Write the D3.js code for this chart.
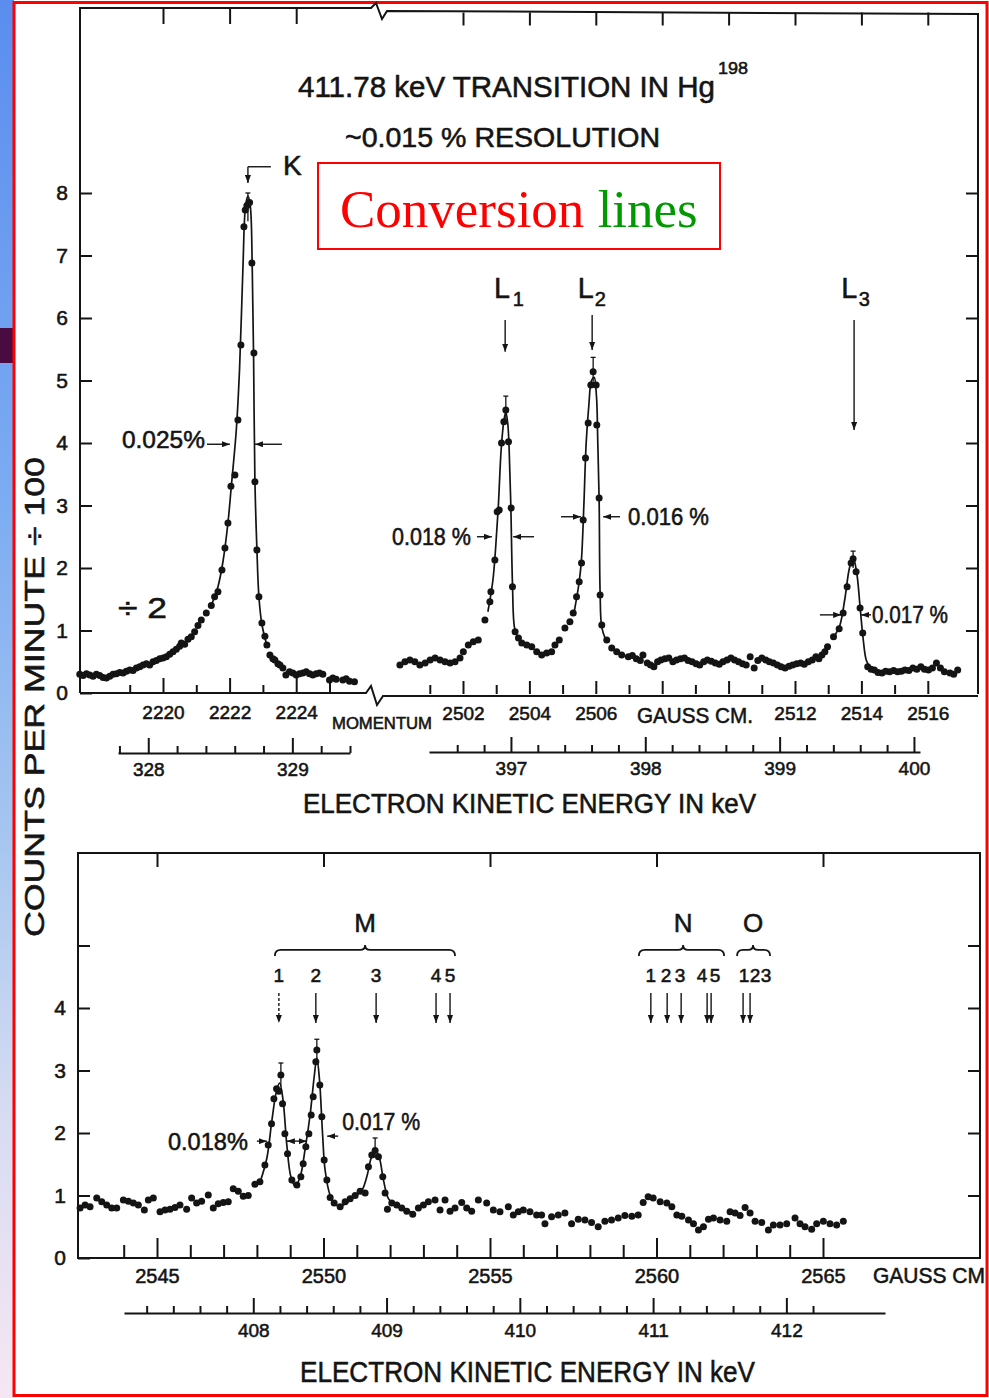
<!DOCTYPE html>
<html>
<head>
<meta charset="utf-8">
<script src="https://cdn.jsdelivr.net/npm/d3@7/dist/d3.min.js"></script>
<style>
  body { margin: 0; background: #fff; }
  svg text { font-family: 'Liberation Sans', Arial, sans-serif; fill: #141414; stroke: #141414; stroke-width: 0.55px; }
  svg text.serif { stroke: none; }
</style>
</head>
<body>
<svg id="chart" width="989" height="1398"></svg>
<script>
// [momentum (gauss cm), counts per minute / 100]
const kPoints = [[2217.5,0.30],[2217.6,0.28],[2217.7,0.31],[2217.8,0.29],[2217.9,0.27],[2218.0,0.30],[2218.1,0.28],[2218.2,0.25],[2218.3,0.24],[2218.4,0.27],[2218.5,0.30],[2218.6,0.31],[2218.7,0.33],[2218.8,0.32],[2218.9,0.35],[2219.0,0.37],[2219.1,0.36],[2219.2,0.40],[2219.3,0.42],[2219.4,0.45],[2219.5,0.47],[2219.6,0.45],[2219.7,0.50],[2219.8,0.52],[2219.9,0.55],[2220.0,0.56],[2220.1,0.58],[2220.2,0.62],[2220.3,0.66],[2220.4,0.70],[2220.5,0.75],[2220.55,0.80],[2220.65,0.78],[2220.75,0.86],[2220.85,0.90],[2220.95,0.98],[2221.05,1.08],[2221.15,1.17],[2221.3,1.28],[2221.45,1.40],[2221.55,1.54],[2221.65,1.62],[2221.77,1.97],[2221.86,2.32],[2221.95,2.72],[2222.04,3.31],[2222.16,3.49],[2222.25,4.37],[2222.34,5.57],[2222.43,7.46],[2222.47,7.73],[2222.52,7.80],[2222.6,7.85],[2222.67,6.88],[2222.73,5.44],[2222.76,3.38],[2222.82,2.29],[2222.88,1.54],[2222.97,1.12],[2223.06,0.91],[2223.12,0.77],[2223.21,0.61],[2223.3,0.55],[2223.36,0.53],[2223.45,0.47],[2223.51,0.45],[2223.6,0.40],[2223.69,0.29],[2223.8,0.34],[2223.9,0.32],[2224.0,0.29],[2224.1,0.31],[2224.2,0.32],[2224.3,0.34],[2224.4,0.31],[2224.5,0.29],[2224.6,0.31],[2224.7,0.32],[2224.8,0.30],[2225.0,0.21],[2225.1,0.24],[2225.2,0.22],[2225.4,0.21],[2225.5,0.23],[2225.6,0.19],[2225.75,0.18]];
const kFit = [[2221.45,1.40],[2221.65,1.70],[2221.8,2.10],[2221.95,2.72],[2222.05,3.30],[2222.2,4.20],[2222.3,5.20],[2222.4,6.80],[2222.48,7.80],[2222.55,7.95],[2222.62,7.80],[2222.68,6.80],[2222.72,5.40],[2222.76,3.40],[2222.82,2.30],[2222.88,1.54],[2222.97,1.10],[2223.1,0.80]];

const lPoints = [[2500.10,0.45],[2500.25,0.50],[2500.40,0.53],[2500.55,0.50],[2500.70,0.45],[2500.86,0.48],[2501.01,0.53],[2501.16,0.56],[2501.31,0.53],[2501.46,0.50],[2501.61,0.48],[2501.76,0.50],[2501.91,0.56],[2502.01,0.66],[2502.16,0.77],[2502.31,0.82],[2502.46,0.85],[2502.66,1.17],[2502.81,1.46],[2502.84,1.62],[2502.96,2.13],[2503.03,2.90],[2503.09,2.93],[2503.16,4.00],[2503.23,4.34],[2503.29,4.53],[2503.37,4.02],[2503.45,2.96],[2503.49,1.70],[2503.57,0.98],[2503.67,0.88],[2503.77,0.80],[2503.92,0.77],[2504.07,0.74],[2504.22,0.66],[2504.37,0.61],[2504.52,0.64],[2504.67,0.66],[2504.77,0.77],[2504.90,0.85],[2505.07,1.04],[2505.22,1.14],[2505.32,1.28],[2505.42,1.54],[2505.50,1.78],[2505.57,2.08],[2505.62,2.77],[2505.69,3.76],[2505.77,4.32],[2505.85,4.93],[2505.92,5.14],[2506.01,4.93],[2506.03,4.29],[2506.10,3.12],[2506.13,1.57],[2506.18,1.09],[2506.33,0.85],[2506.48,0.72],[2506.63,0.66],[2506.78,0.61],[2506.98,0.58],[2507.10,0.60],[2507.22,0.55],[2507.34,0.52],[2507.42,0.61],[2507.55,0.48],[2507.65,0.45],[2507.75,0.42],[2507.86,0.50],[2507.96,0.53],[2508.08,0.55],[2508.20,0.56],[2508.32,0.50],[2508.43,0.53],[2508.55,0.55],[2508.67,0.56],[2508.78,0.52],[2508.90,0.50],[2509.02,0.47],[2509.13,0.45],[2509.25,0.50],[2509.36,0.53],[2509.48,0.51],[2509.60,0.48],[2509.72,0.46],[2509.83,0.50],[2509.95,0.53],[2510.07,0.56],[2510.18,0.53],[2510.30,0.50],[2510.42,0.47],[2510.53,0.45],[2510.65,0.58],[2510.77,0.40],[2510.88,0.52],[2511.00,0.56],[2511.12,0.53],[2511.23,0.50],[2511.35,0.48],[2511.47,0.45],[2511.58,0.42],[2511.70,0.40],[2511.82,0.43],[2511.93,0.45],[2512.05,0.47],[2512.17,0.48],[2512.28,0.46],[2512.40,0.50],[2512.52,0.53],[2512.63,0.58],[2512.72,0.55],[2512.81,0.61],[2512.90,0.66],[2512.98,0.74],[2513.16,0.90],[2513.33,1.03],[2513.45,1.28],[2513.57,1.70],[2513.69,2.08],[2513.75,2.15],[2513.84,1.94],[2513.96,1.36],[2514.04,0.96],[2514.19,0.42],[2514.29,0.38],[2514.39,0.37],[2514.50,0.33],[2514.62,0.32],[2514.73,0.35],[2514.85,0.34],[2514.97,0.36],[2515.09,0.34],[2515.20,0.35],[2515.31,0.37],[2515.43,0.36],[2515.55,0.40],[2515.67,0.38],[2515.79,0.42],[2515.90,0.38],[2516.02,0.37],[2516.14,0.40],[2516.26,0.48],[2516.38,0.40],[2516.50,0.34],[2516.67,0.32],[2516.78,0.30],[2516.90,0.37]];
const l1Fit = [[2502.75,1.30],[2502.9,1.80],[2502.98,2.30],[2503.06,2.95],[2503.15,3.90],[2503.23,4.35],[2503.29,4.50],[2503.35,4.30],[2503.39,3.90],[2503.44,3.00],[2503.49,1.75],[2503.55,1.05],[2503.65,0.88]];
const l2Fit = [[2505.35,1.30],[2505.5,1.78],[2505.57,2.15],[2505.64,3.00],[2505.71,4.00],[2505.79,4.60],[2505.87,5.00],[2505.95,5.05],[2506.02,4.75],[2506.06,4.00],[2506.1,3.10],[2506.13,1.60],[2506.18,1.05],[2506.3,0.85]];
const l3Fit = [[2513.2,0.92],[2513.35,1.08],[2513.5,1.50],[2513.64,2.00],[2513.75,2.17],[2513.86,1.92],[2513.96,1.38],[2514.05,0.88],[2514.15,0.52],[2514.27,0.40]];

const mPoints = [[2542.69,0.80],[2542.84,0.85],[2542.99,0.82],[2543.19,0.96],[2543.34,0.90],[2543.49,0.85],[2543.64,0.80],[2543.79,0.80],[2543.99,0.93],[2544.14,0.91],[2544.29,0.88],[2544.44,0.85],[2544.62,0.77],[2544.74,0.93],[2544.89,0.96],[2545.09,0.74],[2545.24,0.77],[2545.39,0.78],[2545.54,0.81],[2545.69,0.85],[2545.89,0.78],[2546.04,0.96],[2546.19,0.88],[2546.34,0.91],[2546.54,1.01],[2546.69,0.80],[2546.84,0.87],[2546.99,0.89],[2547.14,0.90],[2547.29,1.11],[2547.44,1.07],[2547.59,0.99],[2547.74,1.00],[2547.94,1.18],[2548.09,1.22],[2548.24,1.49],[2548.34,1.81],[2548.44,2.15],[2548.51,2.55],[2548.59,2.71],[2548.66,2.67],[2548.72,2.93],[2548.77,2.47],[2548.84,1.99],[2548.92,1.67],[2549.05,1.25],[2549.20,1.17],[2549.32,1.30],[2549.39,1.51],[2549.47,1.78],[2549.56,1.99],[2549.63,2.29],[2549.69,2.58],[2549.77,3.14],[2549.80,3.33],[2549.89,2.77],[2549.95,2.26],[2550.02,1.57],[2550.10,1.25],[2550.20,0.97],[2550.32,0.88],[2550.50,0.82],[2550.65,0.90],[2550.80,0.95],[2550.95,1.00],[2551.10,1.07],[2551.25,1.04],[2551.35,1.46],[2551.45,1.65],[2551.55,1.72],[2551.65,1.62],[2551.78,1.30],[2551.85,1.04],[2551.92,0.78],[2552.05,0.88],[2552.20,0.85],[2552.35,0.80],[2552.50,0.75],[2552.68,0.70],[2552.85,0.80],[2553.00,0.85],[2553.15,0.90],[2553.35,0.93],[2553.50,0.77],[2553.65,0.93],[2553.80,0.75],[2553.95,0.80],[2554.15,0.89],[2554.30,0.80],[2554.45,0.75],[2554.65,0.93],[2554.90,0.88],[2555.10,0.77],[2555.30,0.74],[2555.55,0.82],[2555.70,0.69],[2555.85,0.74],[2556.00,0.77],[2556.20,0.74],[2556.40,0.69],[2556.55,0.69],[2556.65,0.55],[2556.85,0.66],[2557.05,0.69],[2557.25,0.72],[2557.45,0.55],[2557.65,0.62],[2557.85,0.61],[2558.05,0.57],[2558.25,0.50],[2558.45,0.59],[2558.65,0.61],[2558.85,0.64],[2559.05,0.68],[2559.26,0.67],[2559.45,0.69],[2559.60,0.89],[2559.75,0.98],[2559.90,0.96],[2560.11,0.90],[2560.31,0.88],[2560.46,0.82],[2560.61,0.69],[2560.76,0.67],[2560.96,0.61],[2561.11,0.55],[2561.26,0.45],[2561.41,0.50],[2561.56,0.62],[2561.71,0.64],[2561.91,0.61],[2562.11,0.59],[2562.21,0.74],[2562.36,0.72],[2562.51,0.68],[2562.66,0.81],[2562.81,0.72],[2562.96,0.59],[2563.16,0.57],[2563.36,0.45],[2563.51,0.53],[2563.71,0.53],[2563.91,0.55],[2564.16,0.64],[2564.31,0.55],[2564.46,0.50],[2564.66,0.46],[2564.81,0.55],[2565.01,0.59],[2565.21,0.55],[2565.41,0.53],[2565.61,0.59]];
const mFit = [[2548.1,1.22],[2548.3,1.60],[2548.45,2.20],[2548.58,2.65],[2548.68,2.80],[2548.78,2.55],[2548.9,1.80],[2549.02,1.30],[2549.15,1.15],[2549.3,1.30],[2549.45,1.75],[2549.6,2.30],[2549.72,2.90],[2549.8,3.20],[2549.88,2.85],[2549.97,2.00],[2550.05,1.40],[2550.2,1.00],[2550.35,0.85],[2550.6,0.85],[2550.9,0.97],[2551.15,1.08],[2551.3,1.30],[2551.45,1.63],[2551.57,1.72],[2551.68,1.60],[2551.8,1.25],[2551.95,0.95],[2552.15,0.84],[2552.4,0.78],[2552.7,0.72]];

// [momentum, low, high]
const topErrors = [[2222.55,7.55,8.00],[2503.29,4.30,4.75],[2505.92,4.95,5.37],[2513.75,2.00,2.27]];
const bottomErrors = [[2548.72,2.75,3.12],[2549.80,3.15,3.50],[2551.55,1.60,1.92]];

const countTicksTop = [0, 1, 2, 3, 4, 5, 6, 7, 8];
const countTicksBottom = [0, 1, 2, 3, 4, 5];
const kMomentumLabels = [2220, 2222, 2224];
const lMomentumLabels = [2502, 2504, 2506, 2512, 2514, 2516];
const mMomentumLabels = [2545, 2550, 2555, 2560, 2565];
const kEnergyLabels = [328, 329];
const lEnergyLabels = [397, 398, 399, 400];
const mEnergyLabels = [408, 409, 410, 411, 412];

// shell markers in the lower panel
const mShellNames = ['1', '2', '3', '4', '5'];
const mShellLines = [2548.66, 2549.77, 2551.58, 2553.38, 2553.80];
const nShellNames = ['1', '2', '3', '4', '5'];
const nShellLines = [2559.83, 2560.32, 2560.74, 2561.52, 2561.64];
const nShellLabelAt = [2559.83, 2560.29, 2560.71, 2561.37, 2561.76];
const oShellNames = ['1', '2', '3'];
const oShellLines = [2562.60, 2562.81];
const oShellLabelAt = [2562.63, 2562.96, 2563.29];

const ink = '#141414';
const svg = d3.select('#chart');
const defs = svg.append('defs');

// slide background bits
const grad = defs.append('linearGradient').attr('id', 'strip')
    .attr('x1', 0).attr('y1', 0).attr('x2', 0).attr('y2', 1);
[['0%', '#5b8def'], ['35%', '#7babf2'], ['60%', '#a6c6f0'], ['80%', '#d8dcf2'], ['100%', '#f6e6f4']]
    .forEach(([o, c]) => grad.append('stop').attr('offset', o).attr('stop-color', c));
svg.append('rect').attr('x', 0).attr('y', 0).attr('width', 14).attr('height', 1398).attr('fill', 'url(#strip)');
svg.append('rect').attr('x', 0).attr('y', 328).attr('width', 14).attr('height', 35).attr('fill', '#4a0b40');
svg.append('rect').attr('x', 14).attr('y', 2.5).attr('width', 973).attr('height', 1393)
    .attr('fill', '#fff').attr('stroke', '#f00').attr('stroke-width', 3);

defs.append('marker').attr('id', 'head').attr('viewBox', '0 0 8 6')
    .attr('refX', 8).attr('refY', 3).attr('markerWidth', 8).attr('markerHeight', 6)
    .attr('markerUnits', 'userSpaceOnUse').attr('orient', 'auto')
    .append('path').attr('d', 'M0,0L8,3L0,6Z').attr('fill', ink);

// scales
const yTop = d3.scaleLinear().domain([0, 8]).range([693, 193]);
const yBot = d3.scaleLinear().domain([0, 5]).range([1258, 945.5]);
const xK = d3.scaleLinear().domain([2220, 2224]).range([163, 296.2]);
const xL = d3.scaleLinear().domain([2502, 2516]).range([463, 927.8]);
const xM = d3.scaleLinear().domain([2545, 2565]).range([157, 823]);
const eK = d3.scaleLinear().domain([327.79, 329.4]).range([118, 350]);
const eL = d3.scaleLinear().domain([396.39, 400.045]).range([429, 920]);
const eM = d3.scaleLinear().domain([407.03, 412.74]).range([124, 885]);

// frames (with the broken momentum scale in the top panel)
const frame = svg.append('g').attr('fill', 'none').attr('stroke', ink).attr('stroke-width', 2);
frame.append('path').attr('d', 'M80,693V8H371L376,3L382,19L387,11L978,14V694');
frame.append('path').attr('d', 'M80,693H366L371,686L377,705L383,696H978');
frame.append('path').attr('d', 'M78,853H980V1258H78Z');

function styleAxis(g, size, keepDomain) {
    if (!keepDomain) g.select('.domain').remove();
    g.attr('font-size', null).attr('font-family', null);
    g.selectAll('path').attr('stroke', ink).attr('stroke-width', 2);
    g.selectAll('line').attr('stroke', ink).attr('stroke-width', 2);
    g.selectAll('text').attr('fill', ink).attr('font-size', size);
}

// count axes
svg.append('g').attr('transform', 'translate(80,0)')
    .call(d3.axisLeft(yTop).tickValues(countTicksTop).tickSize(-12).tickPadding(12))
    .call(styleAxis, 21);
svg.append('g').attr('transform', 'translate(978,0)')
    .call(d3.axisRight(yTop).tickValues(countTicksTop.slice(1)).tickSize(-12).tickFormat(''))
    .call(styleAxis, 21);
svg.append('g').attr('transform', 'translate(78,0)')
    .call(d3.axisLeft(yBot).tickValues(countTicksBottom).tickSize(-12).tickPadding(12)
        .tickFormat(d => d === 5 ? '' : d))
    .call(styleAxis, 21);
svg.append('g').attr('transform', 'translate(980,0)')
    .call(d3.axisRight(yBot).tickValues(countTicksBottom.slice(1)).tickSize(-12).tickFormat(''))
    .call(styleAxis, 21);

// ticks along a horizontal line: short ones, then long labelled ones
function tickRow(scale, y, minors, majors, minorLen, majorLen, labels, size, pad, keepDomain) {
    svg.append('g').attr('transform', `translate(0,${y})`)
        .call(d3.axisBottom(scale).tickValues(minors).tickSize(-minorLen).tickSizeOuter(0).tickFormat(''))
        .call(styleAxis, size, keepDomain);
    svg.append('g').attr('transform', `translate(0,${y})`)
        .call(d3.axisBottom(scale).tickValues(majors).tickSize(-majorLen).tickPadding(pad)
            .tickFormat(d => labels.includes(d) ? d : ''))
        .call(styleAxis, size);
}
const isWhole = v => Math.abs(v - Math.round(v)) < 1e-6;
const steps = (a, b, s) => d3.range(0, Math.round((b - a) / s) + 1).map(i => +(a + i * s).toFixed(1));

tickRow(xK, 693, [2219, 2221, 2223], [2220, 2222, 2224, 2225], 8, 15, kMomentumLabels, 19, 12.5);
tickRow(xL, 694, d3.range(2501, 2517, 2), d3.range(2502, 2517, 2), 9, 13, lMomentumLabels, 19, 12.5);
tickRow(xM, 1258, d3.range(2544, 2566).filter(v => v % 5 !== 0), mMomentumLabels, 13, 20, mMomentumLabels, 20, 11);

tickRow(eK, 753, steps(327.8, 329.4, 0.2).filter(v => !isWhole(v)), kEnergyLabels, 7, 15, kEnergyLabels, 19, 9.5, true);
tickRow(eL, 752, steps(396.6, 400, 0.2).filter(v => !isWhole(v)), lEnergyLabels, 7, 15, lEnergyLabels, 19, 9.5, true);
tickRow(eM, 1313, steps(407.2, 412.2, 0.2).filter(v => !isWhole(v)), mEnergyLabels, 7, 15, mEnergyLabels, 19, 10.5, true);

// ticks hanging from the top borders
function topTicks(scale, y, values, len) {
    svg.append('g').attr('transform', `translate(0,${y})`)
        .call(d3.axisTop(scale).tickValues(values).tickSize(-len).tickFormat(''))
        .call(styleAxis, 10);
}
topTicks(xK, 8, kMomentumLabels, 16);
topTicks(xL, 12.5, d3.range(2502, 2517, 2), 13);
topTicks(xM, 853, mMomentumLabels, 14);

// data
function drawSeries(points, fits, errors, x, y) {
    const line = d3.line().x(d => x(d[0])).y(d => y(d[1])).curve(d3.curveCatmullRom.alpha(0.5));
    const g = svg.append('g');
    fits.forEach(f => g.append('path').attr('d', line(f)).attr('fill', 'none')
        .attr('stroke', ink).attr('stroke-width', 1.7));
    g.selectAll('line.err').data(errors).join('line').attr('class', 'err')
        .attr('x1', d => x(d[0])).attr('x2', d => x(d[0]))
        .attr('y1', d => y(d[1])).attr('y2', d => y(d[2]))
        .attr('stroke', ink).attr('stroke-width', 1.3);
    g.selectAll('line.cap').data(errors).join('line').attr('class', 'cap')
        .attr('x1', d => x(d[0]) - 2.5).attr('x2', d => x(d[0]) + 2.5)
        .attr('y1', d => y(d[2])).attr('y2', d => y(d[2]))
        .attr('stroke', ink).attr('stroke-width', 1.3);
    g.selectAll('circle').data(points).join('circle')
        .attr('cx', d => x(d[0])).attr('cy', d => y(d[1])).attr('r', 3.5).attr('fill', ink);
}
drawSeries(kPoints, [kFit], topErrors.slice(0, 1), xK, yTop);
drawSeries(lPoints, [l1Fit, l2Fit, l3Fit], topErrors.slice(1), xL, yTop);
drawSeries(mPoints, [mFit], bottomErrors, xM, yBot);

// text helper
function label(x, y, str, size, opts = {}) {
    const t = svg.append('text').attr('x', x).attr('y', y).attr('font-size', size)
        .attr('text-anchor', opts.anchor || 'start').text(str);
    if (opts.len) t.attr('textLength', opts.len).attr('lengthAdjust', 'spacingAndGlyphs');
    if (opts.transform) t.attr('transform', opts.transform);
    return t;
}
function arrow(x1, y1, x2, y2, dash) {
    svg.append('line').attr('x1', x1).attr('y1', y1).attr('x2', x2).attr('y2', y2)
        .attr('stroke', ink).attr('stroke-width', 1.4)
        .attr('stroke-dasharray', dash ? '3,2' : null)
        .attr('marker-end', 'url(#head)');
}

// titles
label(298, 97, '411.78 keV TRANSITION IN Hg', 29, { len: 417 });
label(718, 74, '198', 17, { len: 30 });
label(345, 147, '~0.015 % RESOLUTION', 28, { len: 315 });
label(44, 697, 'COUNTS PER MINUTE \u00F7 100', 27, { anchor: 'middle', len: 480, transform: 'rotate(-90,44,697)' });
label(303, 813, 'ELECTRON KINETIC ENERGY IN keV', 27, { len: 453 });
label(300, 1382, 'ELECTRON KINETIC ENERGY IN keV', 29, { len: 455 });
label(332, 729, 'MOMENTUM', 16, { len: 100 });
label(637, 723, 'GAUSS CM.', 22, { len: 116 });
label(873, 1283, 'GAUSS CM', 22, { len: 112 });

// overlay box
svg.append('rect').attr('x', 318).attr('y', 163).attr('width', 402).attr('height', 86)
    .attr('fill', 'none').attr('stroke', '#f00').attr('stroke-width', 2);
const conv = svg.append('text').attr('class', 'serif').attr('x', 340).attr('y', 227).attr('font-size', 53)
    .style('font-family', "'Liberation Serif', 'Times New Roman', serif");
conv.append('tspan').style('fill', '#f00').text('Conversion ');
conv.append('tspan').style('fill', '#009a00').text('lines');

// K line marker
label(xK(2223.6), yTop(8.29), 'K', 28);
svg.append('path').attr('d', `M${xK(2223.24)},${yTop(8.42)}H${xK(2222.55)}`)
    .attr('stroke', ink).attr('stroke-width', 1.4).attr('fill', 'none');
arrow(xK(2222.55), yTop(8.42), xK(2222.55), yTop(8.16));
label(xK(2218.65), yTop(1.2), '\u00F7 2', 30, { len: 49 });

// L line markers
const lMarks = [
    { name: '1', text: 2502.93, sub: 2503.5, at: 2503.27, from: 5.97, to: 5.46 },
    { name: '2', text: 2505.46, sub: 2505.97, at: 2505.89, from: 6.05, to: 5.49 },
    { name: '3', text: 2513.39, sub: 2513.92, at: 2513.78, from: 5.97, to: 4.21 }
];
lMarks.forEach(m => {
    label(xL(m.text), yTop(6.32), 'L', 29, { len: 16 });
    label(xL(m.sub), yTop(6.19), m.name, 20);
    arrow(xL(m.at), yTop(m.from), xL(m.at), yTop(m.to));
});

// line widths (arrows at half maximum)
const widthMarks = [
    { x: xK, y: yTop, arrows: [[2221.32, 2222.01, 3.98], [2223.57, 2222.76, 3.98]], text: '0.025%', at: [2221.26, 3.92], anchor: 'end', size: 24, len: 83 },
    { x: xL, y: yTop, arrows: [[2502.42, 2502.87, 2.5], [2504.14, 2503.51, 2.5]], text: '0.018 %', at: [2502.24, 2.37], anchor: 'end', size: 23, len: 79 },
    { x: xL, y: yTop, arrows: [[2504.95, 2505.55, 2.82], [2506.73, 2506.22, 2.82]], text: '0.016 %', at: [2506.97, 2.69], anchor: 'start', size: 23, len: 81 },
    { x: xL, y: yTop, arrows: [[2512.75, 2513.39, 1.25], [2514.29, 2513.99, 1.25]], text: '0.017 %', at: [2514.32, 1.12], anchor: 'start', size: 23, len: 76 },
    { x: xM, y: yBot, arrows: [[2548.0, 2548.3, 1.87], [2549.2, 2548.9, 1.87]], text: '0.018%', at: [2547.73, 1.73], anchor: 'end', size: 24, len: 80 },
    { x: xM, y: yBot, arrows: [[2549.2, 2549.5, 1.87], [2550.44, 2550.11, 1.95]], text: '0.017 %', at: [2550.56, 2.05], anchor: 'start', size: 24, len: 78 }
];
widthMarks.forEach(w => {
    w.arrows.forEach(a => arrow(w.x(a[0]), w.y(a[2]), w.x(a[1]), w.y(a[2])));
    label(w.x(w.at[0]), w.y(w.at[1]), w.text, w.size, { anchor: w.anchor, len: w.len });
});

// shell groups in the lower panel
function brace(x1, x2, xc, y) {
    const p = d3.path();
    p.moveTo(x1, y + 6);
    p.quadraticCurveTo(x1, y, x1 + 6, y);
    p.lineTo(xc - 5, y);
    p.quadraticCurveTo(xc, y, xc, y - 5);
    p.quadraticCurveTo(xc, y, xc + 5, y);
    p.lineTo(x2 - 6, y);
    p.quadraticCurveTo(x2, y, x2, y + 6);
    svg.append('path').attr('d', p.toString()).attr('fill', 'none')
        .attr('stroke', ink).attr('stroke-width', 1.8);
}
const shellGroups = [
    { name: 'M', from: 2548.54, to: 2553.95, mid: 2551.25, names: mShellNames, labelAt: mShellLines, lines: mShellLines },
    { name: 'N', from: 2559.47, to: 2562.03, mid: 2560.80, names: nShellNames, labelAt: nShellLabelAt, lines: nShellLines },
    { name: 'O', from: 2562.42, to: 2563.41, mid: 2562.90, names: oShellNames, labelAt: oShellLabelAt, lines: oShellLines }
];
shellGroups.forEach(s => {
    label(xM(s.mid), yBot(5.22), s.name, 26, { anchor: 'middle' });
    brace(xM(s.from), xM(s.to), xM(s.mid), yBot(4.93));
    s.names.forEach((n, i) => label(xM(s.labelAt[i]), yBot(4.42), n, 19, { anchor: 'middle' }));
    s.lines.forEach((v, i) => arrow(xM(v), yBot(4.24), xM(v), yBot(3.76), s.name === 'M' && i === 0));
});
</script>
</body>
</html>
